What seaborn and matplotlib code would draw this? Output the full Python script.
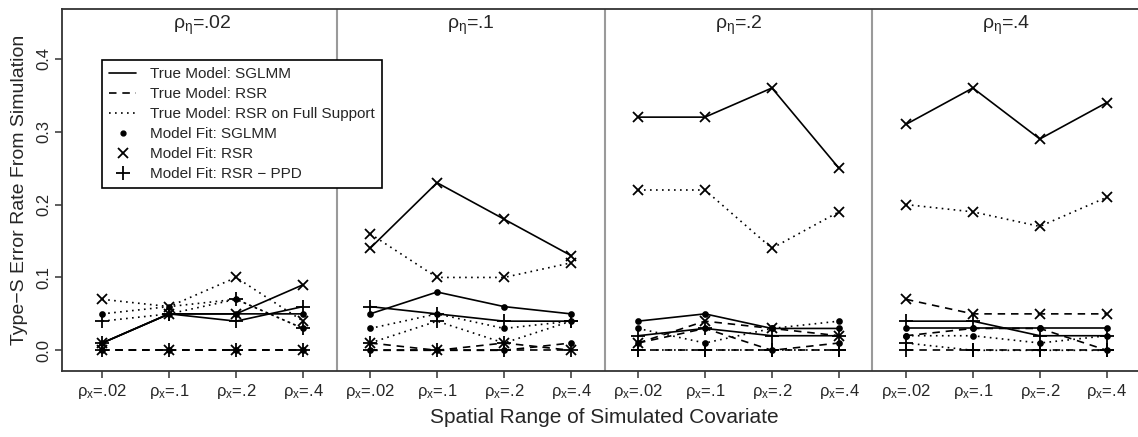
"""
Type-S error rates from the simulation study, one panel per spatial range of
the random effect (rho_eta), x = spatial range of the covariate (rho_x).
"""

import matplotlib
matplotlib.use("Agg")
import matplotlib.pyplot as plt
from matplotlib.lines import Line2D
import seaborn as sns
import pandas as pd

# ---------------------------------------------------------------------------
# Data – 4 panels x 4 covariate ranges, concatenated
# ---------------------------------------------------------------------------
panel_titles = [r"$\rho_\eta$=.02", r"$\rho_\eta$=.1", r"$\rho_\eta$=.2", r"$\rho_\eta$=.4"]
x_labels = [r"$\rho_x$=.02", r"$\rho_x$=.1", r"$\rho_x$=.2", r"$\rho_x$=.4"] * 4

# true model: SGLMM (solid)
true_sglmm_fit_sglmm = [0.01, 0.05, 0.05, 0.05, 0.05, 0.08, 0.06, 0.05,
                        0.04, 0.05, 0.03, 0.03, 0.03, 0.03, 0.03, 0.03]
true_sglmm_fit_rsr = [0.01, 0.05, 0.05, 0.09, 0.14, 0.23, 0.18, 0.13,
                      0.32, 0.32, 0.36, 0.25, 0.31, 0.36, 0.29, 0.34]
true_sglmm_fit_ppd = [0.01, 0.05, 0.04, 0.06, 0.06, 0.05, 0.04, 0.04,
                      0.02, 0.03, 0.02, 0.02, 0.04, 0.04, 0.02, 0.02]
# true model: RSR (dashed)
true_rsr_fit_sglmm = [0.0, 0.0, 0.0, 0.0, 0.0, 0.0, 0.0, 0.01,
                      0.01, 0.03, 0.0, 0.01, 0.02, 0.03, 0.03, 0.0]
true_rsr_fit_rsr = [0.0, 0.0, 0.0, 0.0, 0.01, 0.0, 0.01, 0.0,
                    0.01, 0.04, 0.03, 0.02, 0.07, 0.05, 0.05, 0.05]
true_rsr_fit_ppd = [0.0, 0.0, 0.0, 0.0, 0.0, 0.0, 0.0, 0.0,
                    0.0, 0.0, 0.0, 0.0, 0.0, 0.0, 0.0, 0.0]
# true model: RSR on full support (dotted)
true_full_fit_sglmm = [0.05, 0.06, 0.07, 0.03, 0.03, 0.05, 0.03, 0.04,
                       0.03, 0.01, 0.03, 0.04, 0.02, 0.02, 0.01, 0.02]
true_full_fit_rsr = [0.07, 0.06, 0.10, 0.04, 0.16, 0.10, 0.10, 0.12,
                     0.22, 0.22, 0.14, 0.19, 0.20, 0.19, 0.17, 0.21]
true_full_fit_ppd = [0.04, 0.05, 0.07, 0.03, 0.01, 0.04, 0.01, 0.04,
                     0.0, 0.0, 0.0, 0.0, 0.01, 0.0, 0.0, 0.0]

series = {
    ("SGLMM", "SGLMM"): true_sglmm_fit_sglmm,
    ("SGLMM", "RSR"): true_sglmm_fit_rsr,
    ("SGLMM", "PPD"): true_sglmm_fit_ppd,
    ("RSR", "SGLMM"): true_rsr_fit_sglmm,
    ("RSR", "RSR"): true_rsr_fit_rsr,
    ("RSR", "PPD"): true_rsr_fit_ppd,
    ("Full", "SGLMM"): true_full_fit_sglmm,
    ("Full", "RSR"): true_full_fit_rsr,
    ("Full", "PPD"): true_full_fit_ppd,
}

rows = []
for (truth, fit), vals in series.items():
    for i, v in enumerate(vals):
        rows.append({"pos": i + 1, "panel": i // 4, "truth": truth, "fit": fit, "rate": v})
df = pd.DataFrame(rows)

# ---------------------------------------------------------------------------
# Styling
# ---------------------------------------------------------------------------
sns.set_theme(style="ticks")
plt.rcParams["font.family"] = ["Liberation Sans", "DejaVu Sans"]
plt.rcParams["mathtext.fontset"] = "custom"
plt.rcParams["mathtext.rm"] = "Liberation Sans"
plt.rcParams["mathtext.it"] = "Liberation Sans"
plt.rcParams["mathtext.bf"] = "Liberation Sans:bold"

LINESTYLES = {"SGLMM": "-", "RSR": (0, (4.5, 3.5)), "Full": (0, (1, 2.6))}
MARKERS = {"SGLMM": ("o", 3.5), "RSR": ("x", 7.5), "PPD": ("+", 10)}

W, H = 1138, 437
fig = plt.figure(figsize=(W / 100, H / 100), dpi=100)
ax = fig.add_axes([62 / W, 66 / H, 1085 / W, 362 / H])

for (truth, fit), _ in series.items():
    sub = df[(df.truth == truth) & (df.fit == fit)]
    mk, ms = MARKERS[fit]
    sns.lineplot(data=sub, x="pos", y="rate", units="panel", estimator=None,
                 ax=ax, color="black", linestyle=LINESTYLES[truth], linewidth=1.2,
                 marker=mk, markersize=ms, markeredgecolor="black",
                 markerfacecolor="black", markeredgewidth=1.3, legend=False)

for sep in [4.5, 8.5, 12.5]:
    ax.axvline(sep, color="#9a9a9a", lw=1.5, zorder=0)

for k, title in enumerate(panel_titles):
    ax.text(2.5 + 4 * k, 0.446, title, ha="center", va="center", fontsize=14)

ax.set_xlim(0.4, 16.6)
ax.set_ylim(-0.0284, 0.4684)
ax.set_xticks(range(1, 17))
ax.set_xticklabels(x_labels, fontsize=12)
ax.set_yticks([0.0, 0.1, 0.2, 0.3, 0.4])
ax.set_yticklabels(["0.0", "0.1", "0.2", "0.3", "0.4"], fontsize=12,
                   rotation=90, va="center")
ax.tick_params(direction="out", length=5, width=1.1, color="#333333")
ax.tick_params(axis="x", pad=3)
ax.tick_params(axis="y", pad=3)
for sp in ax.spines.values():
    sp.set_color("#333333")
    sp.set_linewidth(1.3)

ax.set_xlabel("Spatial Range of Simulated Covariate", fontsize=15, labelpad=5)
ax.set_ylabel("Type\u2212S Error Rate From Simulation", fontsize=14, labelpad=6)

handles = [
    Line2D([], [], color="black", lw=1.2, linestyle=LINESTYLES["SGLMM"]),
    Line2D([], [], color="black", lw=1.2, linestyle=LINESTYLES["RSR"]),
    Line2D([], [], color="black", lw=1.2, linestyle=LINESTYLES["Full"]),
    Line2D([], [], color="black", lw=0, marker="o", markersize=3.5),
    Line2D([], [], color="black", lw=0, marker="x", markersize=7.5, markeredgewidth=1.3),
    Line2D([], [], color="black", lw=0, marker="+", markersize=10, markeredgewidth=1.3),
]
labels = ["True Model: SGLMM", "True Model: RSR", "True Model: RSR on Full Support",
          "Model Fit: SGLMM", "Model Fit: RSR", "Model Fit: RSR \u2212 PPD"]
leg = ax.legend(handles, labels, loc="upper left",
                bbox_to_anchor=(102 / W, 1 - 60 / H), bbox_transform=fig.transFigure,
                fontsize=11, frameon=True, fancybox=False, framealpha=1,
                edgecolor="black", handlelength=1.8, handletextpad=0.9,
                labelspacing=0.4, borderpad=0.45, borderaxespad=0)
leg.get_frame().set_linewidth(1.2)

fig.savefig("out.png", dpi=100)
print("Saved out.png")
